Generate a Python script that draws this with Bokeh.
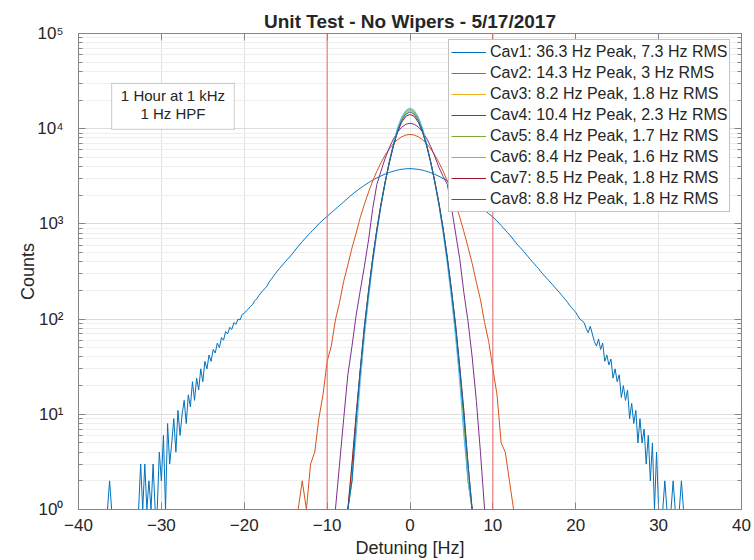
import numpy as np
from bokeh.plotting import figure
from bokeh.models import (Range1d, FixedTicker, LinearAxis, LogAxis, Span, Legend,
                          LegendItem, Label, BoxAnnotation)
from bokeh.embed import file_html
from bokeh.resources import INLINE

FONT = "Liberation Sans"
TEXT = "#262626"
AXIS = "#858585"

# Detuning histograms: counts per bin; bins begin at *_start and are *_step Hz apart
# Cav1: one row per Hz (four 0.25 Hz bins), from -37 Hz up to 33 Hz
cav1_start, cav1_step = -37.0, 0.25
cav1_counts = [
    1, 1, 1, 2,  1, 1, 1, 1,  1, 1, 1, 1,  1, 1, 1, 1,          # -37 .. -34
    1, 1, 3, 1,  3, 1, 2, 1,  3, 1, 1, 4,  2, 6, 1, 8,          # -33 .. -30
    3, 5, 9, 4,  11, 6, 10, 14,  8, 16, 12, 22,  14, 24, 18, 30,  # -29 .. -26
    22, 36, 30, 42,  36, 48, 44, 56,  50, 64, 60, 74,  70, 82, 78, 92,  # -25 .. -22
    88, 100, 98, 112,  115, 122, 128, 136,  142, 155, 163, 176,  188, 200, 210, 222,
    245, 262, 280, 300,  320, 340, 360, 382,  405, 428, 450, 480,  510, 545, 580, 615,
    650, 690, 730, 770,  810, 855, 900, 950,  1000, 1050, 1100, 1150,  1200, 1255, 1310, 1370,
    1430, 1495, 1560, 1630,  1700, 1780, 1860, 1945,  2030, 2115, 2200, 2285,
    2370, 2455, 2540, 2625,  2710, 2795, 2880, 2960,  3040, 3115, 3190, 3265,
    3340, 3405, 3470, 3525,  3580, 3630, 3680, 3715,  3750, 3770, 3790, 3800,   # -3 .. -1
    3800, 3795, 3780, 3760,  3740, 3705, 3670, 3620,  3570, 3510, 3450, 3380,   # 0 .. 2
    3310, 3235, 3160, 3080,  3000, 2915, 2830, 2745,  2660, 2575, 2490, 2400,
    2310, 2225, 2140, 2055,  1970, 1890, 1810, 1735,  1660, 1590, 1520, 1455,
    1390, 1335, 1280, 1230,  1180, 1125, 1070, 1015,  960, 910, 860, 815,        # 9 .. 11
    770, 725, 680, 640,  600, 570, 540, 510,  480, 452, 425, 402,  380, 358, 340, 318,
    300, 284, 268, 254,  240, 226, 215, 202,  192, 180, 170, 160,  150, 140, 132, 124,
    118, 108, 100, 96,  92, 80, 72, 84,  70, 58, 52, 62,  48, 56, 36, 42,         # 20 .. 23
    33, 38, 24, 30,  22, 26, 15, 20,  14, 18, 9, 13,  8, 11, 5, 9,               # 24 .. 27
    5, 7, 3, 6,  2, 5, 1, 4,  1, 1, 1, 2,  1, 1, 1, 2,                           # 28 .. 31
    1, 1, 1, 2,  1,                                                              # 32 .. 33
]

cav2_start, cav2_step = -13.5, 0.5
cav2_counts = [
    1, 2, 1, 3, 4, 9, 16, 36, 52, 98, 150, 250, 370, 560, 800, 1170, 1610, 2160, 2820,
    3570, 4390, 5270, 6140, 6960, 7670, 8220, 8570, 8700, 8580, 8230, 7680, 6970, 6150,
    5280, 4400, 3580, 2830, 2170, 1620, 1180, 830, 570, 385, 245, 160, 92, 58, 30, 16,
    5, 4, 2, 1,
]

cav3_start, cav3_step = -7.5, 0.5
cav3_counts = [
    1, 2, 8, 26, 75, 180, 400, 820, 1550, 2680, 4400, 6700, 9700, 12500, 14600, 15500,
    14700, 12600, 9800, 6800, 4450, 2700, 1580, 830, 410, 185, 78, 27, 9, 2, 1,
]

cav4_start, cav4_step = -9.0, 0.5
cav4_counts = [
    1, 3, 9, 26, 52, 110, 200, 360, 680, 1450, 2600, 3580, 4870, 6310, 7810, 9210, 10380,
    11130, 11400, 11150, 10420, 9300, 7950, 6500, 5100, 3900, 3150, 2600, 1500, 800, 430,
    190, 95, 40, 14, 4, 1,
]

cav5_start, cav5_step = -7.5, 0.5
cav5_counts = [
    1, 3, 9, 28, 80, 190, 420, 850, 1600, 2750, 4500, 6900, 10000, 12900, 15100, 16000,
    15100, 12900, 10000, 6900, 4500, 2750, 1600, 850, 420, 190, 80, 28, 8, 2, 1,
]

cav6_start, cav6_step = -7.5, 0.5
cav6_counts = [
    1, 2, 6, 22, 65, 165, 380, 800, 1540, 2700, 4500, 7000, 10200, 13300, 15600, 16500,
    15600, 13300, 10200, 7000, 4500, 2700, 1540, 800, 380, 165, 65, 22, 6, 2, 1,
]

cav7_start, cav7_step = -7.5, 0.5
cav7_counts = [
    1, 3, 10, 30, 85, 200, 440, 880, 1620, 2750, 4400, 6600, 9200, 11700, 13500, 14100,
    13500, 11700, 9250, 6650, 4450, 2780, 1650, 900, 450, 205, 88, 32, 11, 3, 1,
]

cav8_start, cav8_step = -7.5, 0.5
cav8_counts = [
    1, 2, 9, 29, 82, 195, 430, 860, 1600, 2720, 4400, 6600, 9500, 12200, 14200, 15000,
    14200, 12200, 9500, 6650, 4420, 2740, 1620, 880, 440, 200, 84, 30, 10, 3, 1,
]

cav_labels = [
    "Cav1: 36.3 Hz Peak, 7.3 Hz RMS",
    "Cav2: 14.3 Hz Peak, 3 Hz RMS",
    "Cav3: 8.2 Hz Peak, 1.8 Hz RMS",
    "Cav4: 10.4 Hz Peak, 2.3 Hz RMS",
    "Cav5: 8.4 Hz Peak, 1.7 Hz RMS",
    "Cav6: 8.4 Hz Peak, 1.6 Hz RMS",
    "Cav7: 8.5 Hz Peak, 1.8 Hz RMS",
    "Cav8: 8.8 Hz Peak, 1.8 Hz RMS",
]
cav_colors = ["#0072BD", "#D95319", "#EDB120", "#7E2F8E",
              "#77AC30", "#4DBEEE", "#A2142F", "#0072BD"]

limit_hz = [-10, 10]
x_ticks = [-40, -30, -20, -10, 0, 10, 20, 30, 40]
y_ticks = [1, 10, 100, 1000, 10000, 100000]
y_tick_text = ["10\u2070", "10\u00b9", "10\u00b2", "10\u00b3", "10\u2074", "10\u2075"]

series = [
    (cav1_start, cav1_step, cav1_counts),
    (cav2_start, cav2_step, cav2_counts),
    (cav3_start, cav3_step, cav3_counts),
    (cav4_start, cav4_step, cav4_counts),
    (cav5_start, cav5_step, cav5_counts),
    (cav6_start, cav6_step, cav6_counts),
    (cav7_start, cav7_step, cav7_counts),
    (cav8_start, cav8_step, cav8_counts),
]

p = figure(width=754, height=560, y_axis_type="log",
           x_range=Range1d(-40, 40), y_range=Range1d(1, 1e5),
           output_backend="svg", toolbar_location=None,
           min_border_left=78, min_border_right=13, min_border_top=33, min_border_bottom=50,
           background_fill_color="white", border_fill_color="white",
           outline_line_color=AXIS,
           title="Unit Test - No Wipers - 5/17/2017")

p.title.text_font = FONT
p.title.text_font_size = "19px"
p.title.text_font_style = "bold"
p.title.text_color = TEXT
p.title.align = "center"
p.title.standoff = 4

y_minor = [m * 10 ** e for e in range(0, 5) for m in range(2, 10)]

# bottom / left axes
p.xaxis.ticker = FixedTicker(ticks=x_ticks)
p.yaxis.ticker = FixedTicker(ticks=y_ticks, minor_ticks=y_minor)
p.yaxis.major_label_overrides = dict(zip(y_ticks, y_tick_text))
for ax in (p.xaxis, p.yaxis):
    ax.axis_line_color = AXIS
    ax.major_tick_line_color = AXIS
    ax.minor_tick_line_color = AXIS
    ax.major_tick_in = 7
    ax.major_tick_out = 0
    ax.minor_tick_in = 4
    ax.minor_tick_out = 0
    ax.major_label_text_font = FONT
    ax.major_label_text_font_size = "17px"
    ax.major_label_text_color = TEXT
    ax.axis_label_text_font = FONT
    ax.axis_label_text_font_size = "18px"
    ax.axis_label_text_font_style = "normal"
    ax.axis_label_text_color = TEXT
p.xaxis.minor_tick_in = 0
p.xaxis.major_label_standoff = 9
p.xaxis.axis_label = "Detuning [Hz]"
p.xaxis.axis_label_standoff = 4
p.yaxis.major_label_standoff = 15
p.yaxis.axis_label = "Counts"
p.yaxis.axis_label_standoff = -4

# box sides on top and right: tick marks only, labels left unpainted
top_axis = LinearAxis(ticker=FixedTicker(ticks=x_ticks), major_label_text_font_size="1px",
                      major_label_text_color=None, major_label_standoff=0,
                      major_tick_in=7, major_tick_out=0, minor_tick_in=0, minor_tick_out=0,
                      axis_line_color=AXIS, major_tick_line_color=AXIS)
p.add_layout(top_axis, "above")
right_axis = LogAxis(ticker=FixedTicker(ticks=y_ticks, minor_ticks=y_minor),
                     major_label_text_font_size="1px", major_label_text_color=None,
                     major_label_standoff=0,
                     major_tick_in=7, major_tick_out=0, minor_tick_in=4, minor_tick_out=0,
                     axis_line_color=AXIS, major_tick_line_color=AXIS,
                     minor_tick_line_color=AXIS)
p.add_layout(right_axis, "right")

# grids
p.xgrid.grid_line_color = "#e2e2e2"
p.ygrid.grid_line_color = "#dcdcdc"
p.ygrid.minor_grid_line_color = "#eeeeee"

items = []
for (start, step, counts), color, label in zip(series, cav_colors, cav_labels):
    hz = start + step * np.arange(len(counts))
    r = p.line(hz, counts, line_color=color, line_width=1)
    items.append(LegendItem(label=label, renderers=[r]))

for v in limit_hz:
    p.add_layout(Span(location=v, dimension="height", line_color="#f06a6a", line_width=1))

legend = Legend(items=items, location=(370, 297), margin=0, padding=2, spacing=1,
                label_text_font=FONT, label_text_font_size="16px", label_text_color=TEXT,
                label_height=20, glyph_height=20, glyph_width=35, label_standoff=4,
                label_width=236, border_line_color=AXIS, border_line_width=1,
                background_fill_color="white", background_fill_alpha=1)
p.add_layout(legend)

# note box
p.add_layout(BoxAnnotation(left=-36.0, right=-21.2, bottom=9860, top=29900,
                           fill_color="white", fill_alpha=1,
                           line_color="#555555", line_width=1))
for txt, yv in (("1 Hour at 1 kHz", 22400), ("1 Hz HPF", 14500)):
    p.add_layout(Label(x=-28.6, y=yv, text=txt, text_align="center", text_baseline="middle",
                       text_font=FONT, text_font_size="15px", text_color=TEXT))

open("out.html", "w").write(file_html(p, INLINE))
